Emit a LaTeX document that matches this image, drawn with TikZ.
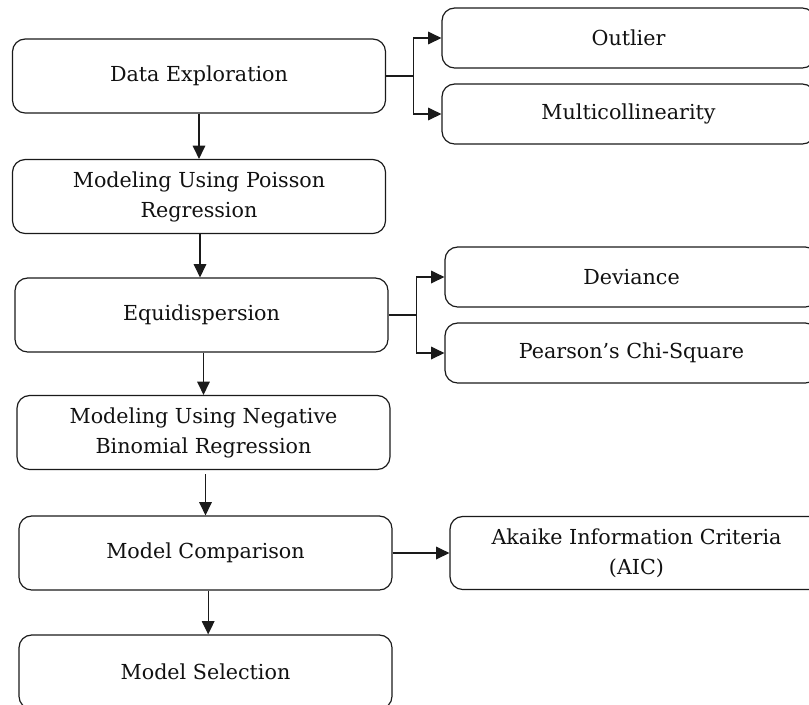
\documentclass[tikz,border=0pt]{standalone}
\usepackage{fontspec}
\setmainfont{DejaVu Serif}
\usetikzlibrary{arrows.meta}
\definecolor{txt}{HTML}{111111}
\definecolor{ln}{HTML}{1A1A1A}
\begin{document}
\begin{tikzpicture}[x=0.75pt,y=-0.75pt,
  box/.style={draw=ln, line width=0.9pt, rounded corners=9.5pt,
    minimum width=279.75pt, inner sep=0pt, align=center, text=txt,
    font=\fontsize{15.5}{22.5}\selectfont},
  bigbox/.style={box, minimum height=55.5pt},
  smallbox/.style={box, minimum height=45pt},
  conn/.style={draw=ln, line width=0.9pt},
  arr/.style={conn, -{Triangle[length=10pt,width=9.5pt]}}]
\useasboundingbox (0,0) rectangle (809,704);
\clip (0,0) rectangle (809,704);
% main column
\node[bigbox] (de) at (199,76) {Data Exploration};
\node[bigbox] (pr) at (199,196.5) {Modeling Using Poisson\\Regression};
\node[bigbox] (eq) at (201.5,315) {Equidispersion};
\node[bigbox] (nb) at (203.5,432.5) {Modeling Using Negative\\Binomial Regression};
\node[bigbox] (mc) at (205.5,553) {Model Comparison};
\node[bigbox] (ms) at (205.5,672) {Model Selection};
% right column
\node[smallbox] (ol) at (628.5,38) {Outlier};
\node[smallbox] (mu) at (628.5,114) {Multicollinearity};
\node[smallbox] (dv) at (631.5,277) {Deviance};
\node[smallbox] (pc) at (631.5,353) {Pearson’s Chi-Square};
\node[box, minimum height=54.75pt] (ai) at (636.5,553) {Akaike Information Criteria\\(AIC)};
% vertical arrows
\draw[arr] (de.south) -- (de.south |- pr.north);
\draw[arr] ([xshift=0.75pt]pr.south) -- ([xshift=0.75pt]pr.south |- eq.north);
\draw[arr] ([xshift=1.5pt]eq.south) -- ([xshift=1.5pt]eq.south |- nb.north);
\draw[arr] ([xshift=1.5pt,yshift=-3pt]nb.south) -- ([xshift=1.5pt]nb.south |- mc.north);
\draw[arr] ([xshift=2pt]mc.south) -- ([xshift=2pt]mc.south |- ms.north);
% branches
\draw[conn] (de.east) -- ++(27,0) coordinate (b1);
\draw[arr] (b1) |- (ol.west);
\draw[arr] (b1) |- (mu.west);
\draw[conn] (eq.east) -- ++(28,0) coordinate (b2);
\draw[arr] (b2) |- (dv.west);
\draw[arr] (b2) |- (pc.west);
\draw[arr] (mc.east) -- (ai.west);
\end{tikzpicture}
\end{document}
